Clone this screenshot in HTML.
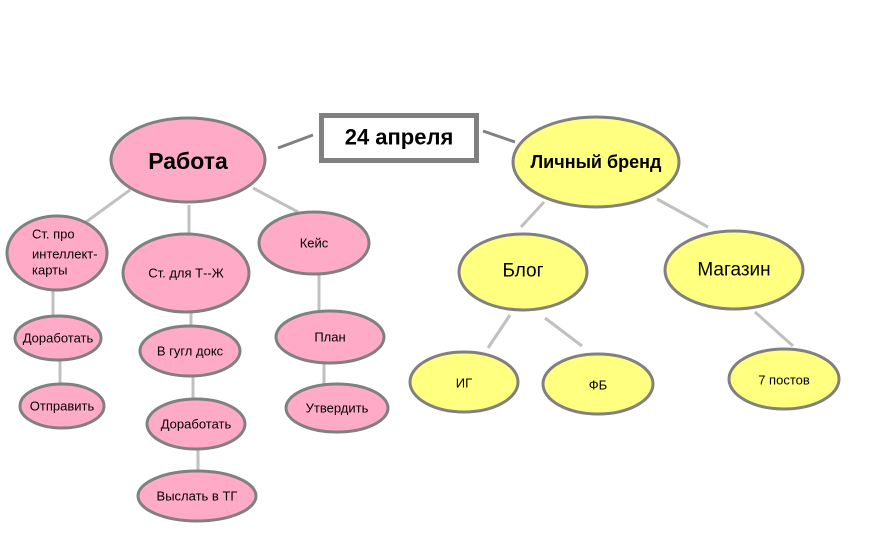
<!DOCTYPE html>
<html><head><meta charset="utf-8"><style>body{margin:0;background:#fff}svg{display:block}text{font-family:"Liberation Sans","DejaVu Sans",sans-serif;fill:#000;text-anchor:middle;dominant-baseline:central}</style></head><body>
<svg width="877" height="536" viewBox="0 0 877 536">
<g stroke="#808080" stroke-width="3"><line x1="278" y1="148" x2="313" y2="135"/><line x1="483" y1="131" x2="515" y2="142"/></g>
<g stroke="#c0c0c0" stroke-width="3">
<line x1="130" y1="190" x2="86" y2="222"/><line x1="189" y1="205" x2="189" y2="237"/><line x1="253" y1="188" x2="298" y2="212"/>
<line x1="53" y1="290" x2="53" y2="316"/><line x1="60" y1="360" x2="60" y2="384"/>
<line x1="191" y1="312" x2="191" y2="326"/><line x1="193" y1="376" x2="193" y2="399"/><line x1="198" y1="449" x2="198" y2="471"/>
<line x1="319" y1="275" x2="319" y2="311"/><line x1="324" y1="363" x2="324" y2="384"/>
<line x1="544" y1="202" x2="521" y2="227"/><line x1="657" y1="199" x2="708" y2="227"/>
<line x1="510" y1="315" x2="488" y2="348"/><line x1="545" y1="318" x2="582" y2="346"/>
<line x1="755" y1="312" x2="793" y2="346"/>
</g>
<rect x="321.5" y="115.5" width="155" height="45" fill="#fff" stroke="#808080" stroke-width="5"/>
<text x="399" y="137" font-size="22" font-weight="bold">24 апреля</text>
<g stroke="#808080" stroke-width="3" fill="#ffabc8">
<ellipse cx="188" cy="160" rx="77" ry="42"/><ellipse cx="57" cy="253" rx="50" ry="37"/><ellipse cx="186" cy="273" rx="63" ry="39"/><ellipse cx="314" cy="243" rx="55" ry="31"/>
<ellipse cx="58" cy="338" rx="43" ry="22"/><ellipse cx="62" cy="406" rx="42" ry="22"/><ellipse cx="190" cy="351" rx="50" ry="25"/><ellipse cx="196" cy="424" rx="49" ry="25"/><ellipse cx="197" cy="496" rx="59" ry="25"/><ellipse cx="330" cy="337" rx="54" ry="26"/><ellipse cx="337" cy="408" rx="51" ry="24"/>
</g>
<g stroke="#808080" stroke-width="3" fill="#ffff80">
<ellipse cx="596" cy="162" rx="83" ry="45"/><ellipse cx="523" cy="272" rx="64" ry="38"/><ellipse cx="734" cy="270" rx="69" ry="39"/><ellipse cx="464" cy="382" rx="54" ry="30"/><ellipse cx="598" cy="384" rx="55" ry="30"/><ellipse cx="784" cy="379" rx="55" ry="30"/>
</g>
<text x="188" y="161" font-size="23" font-weight="bold">Работа</text>
<text x="596" y="162" font-size="18" font-weight="bold">Личный бренд</text>
<g font-size="13"><text x="52" y="234" style="text-anchor:start" dx="-20">Ст. про</text><text x="32" y="254" style="text-anchor:start">интеллект-</text><text x="32" y="270" style="text-anchor:start">карты</text></g>
<text x="186" y="273" font-size="13">Ст. для Т--Ж</text>
<text x="314" y="243" font-size="13">Кейс</text>
<text x="58" y="338" font-size="13">Доработать</text>
<text x="62" y="406" font-size="13">Отправить</text>
<text x="190" y="351" font-size="13">В гугл докс</text>
<text x="196" y="424" font-size="13">Доработать</text>
<text x="197" y="496" font-size="13">Выслать в ТГ</text>
<text x="330" y="337" font-size="13">План</text>
<text x="337" y="408" font-size="13">Утвердить</text>
<text x="523" y="271" font-size="19">Блог</text>
<text x="734" y="270" font-size="19">Магазин</text>
<text x="464" y="383" font-size="13">ИГ</text>
<text x="598" y="385" font-size="13">ФБ</text>
<text x="784" y="380" font-size="13">7 постов</text>
</svg>
</body></html>
